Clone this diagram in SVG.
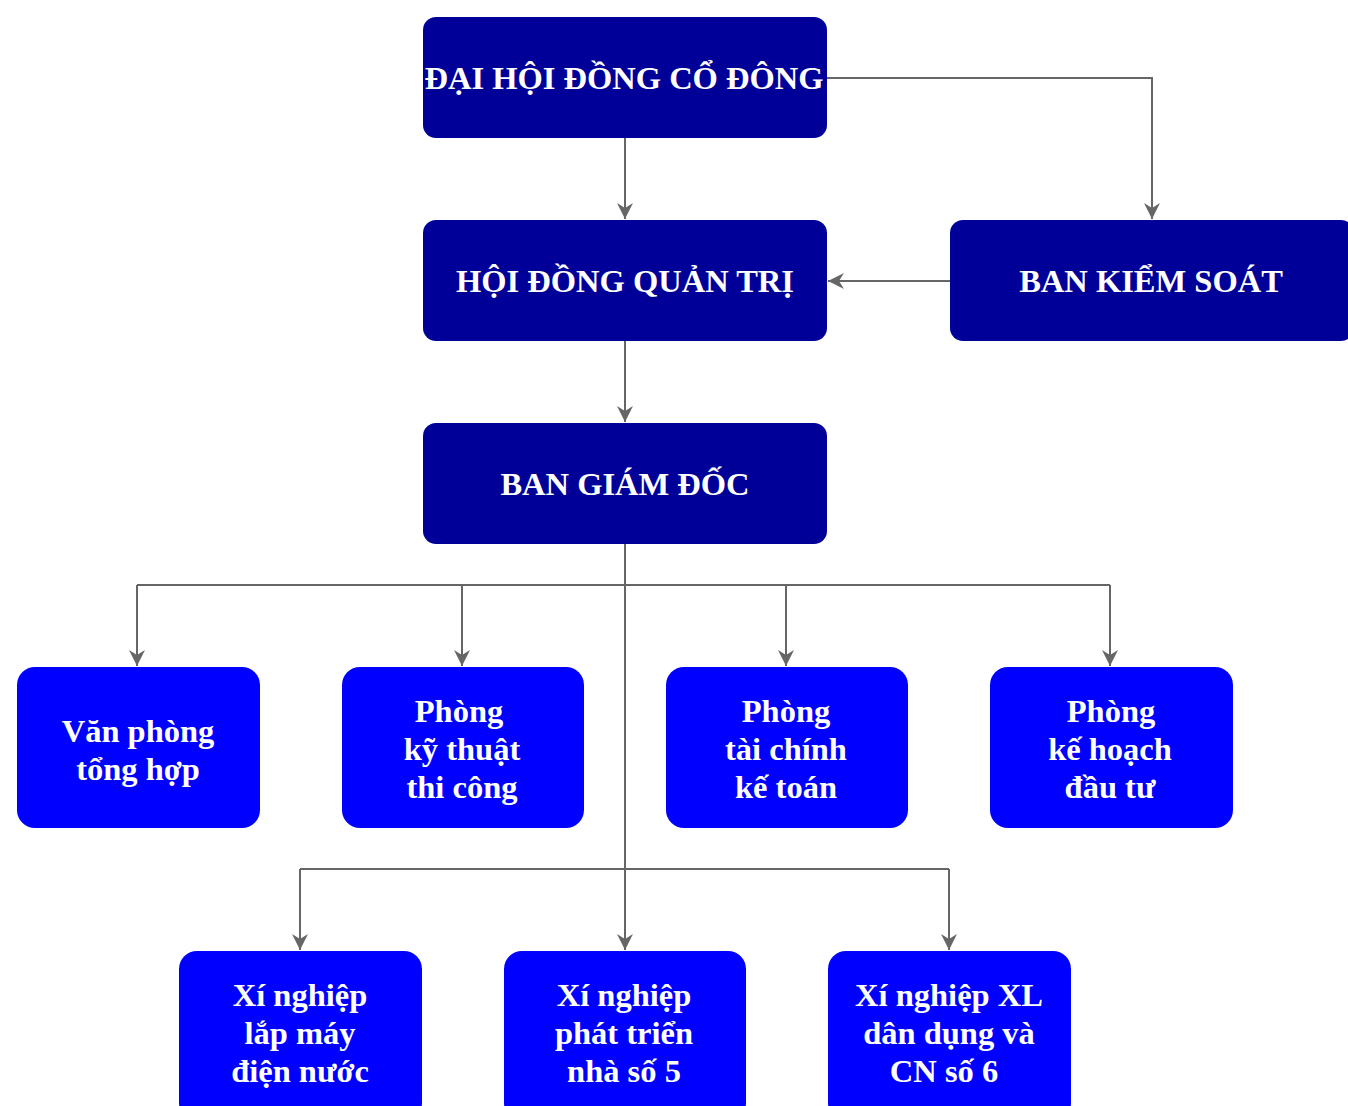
<svg xmlns="http://www.w3.org/2000/svg" width="1348" height="1106" viewBox="0 0 1348 1106">
<style>
.dark{fill:#000099;}
.blue{fill:#0000FF;}
.t{fill:#FFFFFF;font-family:"Liberation Serif","Times New Roman",serif;font-weight:bold;font-size:32.5px;text-anchor:middle;}
.c{fill:none;stroke:#666666;stroke-width:2;}
</style>
<defs>
<marker id="arr" markerWidth="18" markerHeight="18" refX="16" refY="8" orient="auto" markerUnits="userSpaceOnUse">
<path d="M0,0 L16,8 L0,16 L5,8 Z" fill="#666666"/>
</marker>
</defs>
<rect width="1348" height="1106" fill="#FFFFFF"/>
<g id="connectors">
<path class="c" d="M827,78 H1152 V219" marker-end="url(#arr)"/>
<path class="c" d="M625,138 V219" marker-end="url(#arr)"/>
<path class="c" d="M950,281 H828" marker-end="url(#arr)"/>
<path class="c" d="M625,341 V422" marker-end="url(#arr)"/>
<path class="c" d="M625,544 V950"/>
<path class="c" d="M137,585 H1110"/>
<path class="c" d="M137,585 V666" marker-end="url(#arr)"/>
<path class="c" d="M462,585 V666" marker-end="url(#arr)"/>
<path class="c" d="M786,585 V666" marker-end="url(#arr)"/>
<path class="c" d="M1110,585 V666" marker-end="url(#arr)"/>
<path class="c" d="M300,869 H949"/>
<path class="c" d="M300,869 V950" marker-end="url(#arr)"/>
<path class="c" d="M625,869 V950" marker-end="url(#arr)"/>
<path class="c" d="M949,869 V950" marker-end="url(#arr)"/>
</g>
<g id="dhdcd">
<rect class="dark" x="423" y="17" width="404" height="121" rx="13"/>
<text class="t" x="624" y="89">ĐẠI HỘI ĐỒNG CỔ ĐÔNG</text>
</g>
<g id="hdqt">
<rect class="dark" x="423" y="220" width="404" height="121" rx="13"/>
<text class="t" x="625" y="292">HỘI ĐỒNG QUẢN TRỊ</text>
</g>
<g id="bks">
<rect class="dark" x="950" y="220" width="404" height="121" rx="13"/>
<text class="t" x="1151" y="292">BAN KIỂM SOÁT</text>
</g>
<g id="bgd">
<rect class="dark" x="423" y="423" width="404" height="121" rx="13"/>
<text class="t" x="625" y="495">BAN GIÁM ĐỐC</text>
</g>
<g id="vpth">
<rect class="blue" x="17" y="667" width="243" height="161" rx="18"/>
<text class="t" x="138" y="742">Văn phòng</text>
<text class="t" x="138" y="780">tổng hợp</text>
</g>
<g id="pktc">
<rect class="blue" x="342" y="667" width="242" height="161" rx="18"/>
<text class="t" x="459" y="722">Phòng</text>
<text class="t" x="462" y="760">kỹ thuật</text>
<text class="t" x="462" y="798">thi công</text>
</g>
<g id="ptckt">
<rect class="blue" x="666" y="667" width="242" height="161" rx="18"/>
<text class="t" x="786" y="722">Phòng</text>
<text class="t" x="786" y="760">tài chính</text>
<text class="t" x="786" y="798">kế toán</text>
</g>
<g id="pkhdt">
<rect class="blue" x="990" y="667" width="243" height="161" rx="18"/>
<text class="t" x="1111" y="722">Phòng</text>
<text class="t" x="1110" y="760">kế hoạch</text>
<text class="t" x="1110" y="798">đầu tư</text>
</g>
<g id="xn1">
<rect class="blue" x="179" y="951" width="243" height="170" rx="18"/>
<text class="t" x="300" y="1006">Xí nghiệp</text>
<text class="t" x="300" y="1044">lắp máy</text>
<text class="t" x="300" y="1082">điện nước</text>
</g>
<g id="xn2">
<rect class="blue" x="504" y="951" width="242" height="170" rx="18"/>
<text class="t" x="624" y="1006">Xí nghiệp</text>
<text class="t" x="624" y="1044">phát triển</text>
<text class="t" x="624" y="1082">nhà số 5</text>
</g>
<g id="xn3">
<rect class="blue" x="828" y="951" width="243" height="170" rx="18"/>
<text class="t" x="949" y="1006">Xí nghiệp XL</text>
<text class="t" x="949" y="1044">dân dụng và</text>
<text class="t" x="944" y="1082">CN số 6</text>
</g>
</svg>
